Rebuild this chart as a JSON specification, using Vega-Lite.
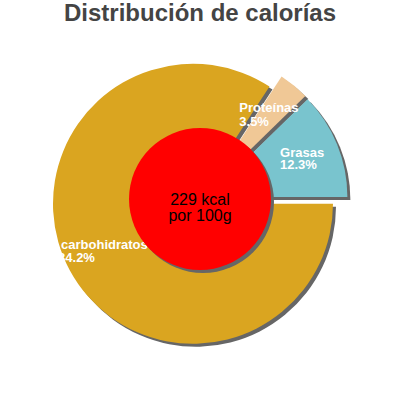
{
  "$schema": "https://vega.github.io/schema/vega-lite/v6.json",
  "width": 400,
  "height": 340,
  "autosize": "none",
  "padding": {"top": 30, "left": 0, "right": 0, "bottom": 30},
  "title": {
    "text": "Distribución de calorías",
    "font": "Liberation Sans",
    "fontSize": 24,
    "fontWeight": "bold",
    "color": "#444444",
    "anchor": "middle"
  },
  "datasets": {
    "calorias": [
      {"nutriente": "carbohidratos", "proporcion": 0.842},
      {"nutriente": "Proteínas", "proporcion": 0.035},
      {"nutriente": "Grasas", "proporcion": 0.123}
    ],
    "energia": [
      {"texto": "229 kcal\npor 100g"}
    ]
  },
  "layer": [
    {
      "data": {"name": "calorias"},
      "encoding": {
        "theta": {"field": "proporcion", "type": "quantitative", "stack": true, "scale": {"range": [1.5708, 7.854]}},
        "order": {"field": "nutriente", "sort": "descending"},
        "detail": {"field": "nutriente"}
      },
      "layer": [
        {
          "mark": {"type": "arc", "radius": 140, "fill": "#666666", "xOffset": -4, "yOffset": 6.8},
          "encoding": {"opacity": {"condition": {"test": "datum.nutriente === 'carbohidratos'", "value": 1}, "value": 0}}
        },
        {
          "mark": {"type": "arc", "radius": 140, "fill": "#666666", "xOffset": 8.1, "yOffset": -3.2},
          "encoding": {"opacity": {"condition": {"test": "datum.nutriente === 'Proteínas'", "value": 1}, "value": 0}}
        },
        {
          "mark": {"type": "arc", "radius": 140, "fill": "#666666", "xOffset": 10.4, "yOffset": 0},
          "encoding": {"opacity": {"condition": {"test": "datum.nutriente === 'Grasas'", "value": 1}, "value": 0}}
        },
        {
          "mark": {"type": "arc", "radius": 140, "xOffset": -7, "yOffset": 3.8},
          "encoding": {
            "color": {"field": "nutriente", "type": "nominal", "legend": null,
              "scale": {"domain": ["carbohidratos", "Proteínas", "Grasas"], "range": ["#DAA520", "#F0C896", "#79C4CE"]}},
            "opacity": {"condition": {"test": "datum.nutriente === 'carbohidratos'", "value": 1}, "value": 0}
          }
        },
        {
          "mark": {"type": "arc", "radius": 140, "xOffset": 5.1, "yOffset": -6.2},
          "encoding": {
            "color": {"field": "nutriente", "type": "nominal", "legend": null},
            "opacity": {"condition": {"test": "datum.nutriente === 'Proteínas'", "value": 1}, "value": 0}
          }
        },
        {
          "mark": {"type": "arc", "radius": 140, "xOffset": 7.4, "yOffset": -3},
          "encoding": {
            "color": {"field": "nutriente", "type": "nominal", "legend": null},
            "opacity": {"condition": {"test": "datum.nutriente === 'Grasas'", "value": 1}, "value": 0}
          }
        },
        {
          "mark": {"type": "text", "radius": 100, "align": "left", "baseline": "alphabetic", "dx": -24.2, "dy": -10.4,
            "font": "Liberation Sans", "fontSize": 13, "fontWeight": "bold", "fill": "white"},
          "encoding": {
            "text": {"condition": {"test": "datum.nutriente === 'Proteínas'", "field": "nutriente"}, "value": ""}
          }
        },
        {
          "mark": {"type": "text", "radius": 100, "align": "left", "baseline": "alphabetic", "dx": -24.2, "dy": 3,
            "font": "Liberation Sans", "fontSize": 13, "fontWeight": "bold", "fill": "white"},
          "encoding": {
            "text": {"condition": {"test": "datum.nutriente === 'Proteínas'", "field": "proporcion", "type": "quantitative", "format": ".1%"}, "value": ""}
          }
        },
        {
          "mark": {"type": "text", "radius": 100, "align": "left", "baseline": "alphabetic", "dx": -12.6, "dy": -5.6,
            "font": "Liberation Sans", "fontSize": 13, "fontWeight": "bold", "fill": "white"},
          "encoding": {
            "text": {"condition": {"test": "datum.nutriente === 'Grasas'", "field": "nutriente"}, "value": ""}
          }
        },
        {
          "mark": {"type": "text", "radius": 100, "align": "left", "baseline": "alphabetic", "dx": -12.6, "dy": 6.7,
            "font": "Liberation Sans", "fontSize": 13, "fontWeight": "bold", "fill": "white"},
          "encoding": {
            "text": {"condition": {"test": "datum.nutriente === 'Grasas'", "field": "proporcion", "type": "quantitative", "format": ".1%"}, "value": ""}
          }
        },
        {
          "mark": {"type": "text", "radius": 100, "align": "left", "baseline": "alphabetic", "dx": -51, "dy": 1.7,
            "font": "Liberation Sans", "fontSize": 13, "fontWeight": "bold", "fill": "white"},
          "encoding": {
            "text": {"condition": {"test": "datum.nutriente === 'carbohidratos'", "field": "nutriente"}, "value": ""}
          }
        },
        {
          "mark": {"type": "text", "radius": 100, "align": "left", "baseline": "alphabetic", "dx": -54, "dy": 14,
            "font": "Liberation Sans", "fontSize": 13, "fontWeight": "bold", "fill": "white"},
          "encoding": {
            "text": {"condition": {"test": "datum.nutriente === 'carbohidratos'", "field": "proporcion", "type": "quantitative", "format": ".1%"}, "value": ""}
          }
        }
      ]
    },
    {
      "data": {"name": "energia"},
      "mark": {"type": "arc", "theta": 0, "theta2": 6.2832, "radius": 71, "fill": "#666666", "xOffset": 3, "yOffset": 2},
      "encoding": {}
    },
    {
      "data": {"name": "energia"},
      "mark": {"type": "arc", "theta": 0, "theta2": 6.2832, "radius": 71, "fill": "#FF0000", "yOffset": -1},
      "encoding": {}
    },
    {
      "data": {"name": "energia"},
      "mark": {"type": "text", "lineBreak": "\n", "lineHeight": 16, "align": "center", "baseline": "middle",
        "font": "Liberation Sans", "fontSize": 16, "color": "#000000"},
      "encoding": {"text": {"field": "texto"}}
    }
  ],
  "config": {"view": {"stroke": null}}
}
